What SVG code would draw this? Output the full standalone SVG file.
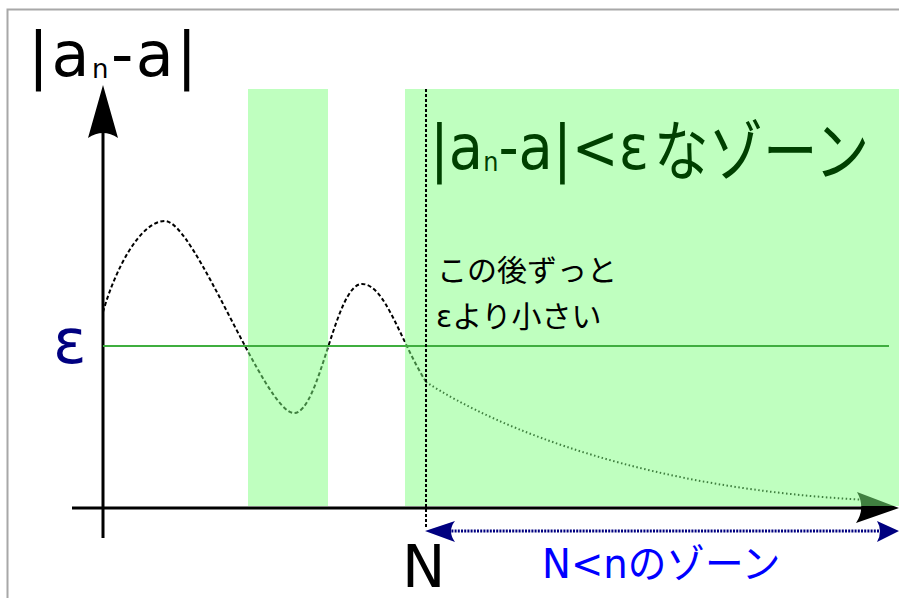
<svg xmlns="http://www.w3.org/2000/svg" width="899" height="598" viewBox="0 0 899 598">
<defs>
<style>
.lat{font-family:"DejaVu Sans","Noto Sans CJK JP",sans-serif}
.jp{font-family:"Noto Sans CJK JP","DejaVu Sans",sans-serif}
.zone{fill:#80ff80;fill-opacity:0.5}
.curve{fill:none;stroke:#000;stroke-width:2}
</style>
</defs>
<rect x="0" y="0" width="899" height="598" fill="#fff"/>
<path d="M7.5,598 V9.5 H899" fill="none" stroke="#a8a8a8" stroke-width="2"/>
<g id="connectors">
<path id="curve-osc" class="curve" stroke-dasharray="4,2.5" d="M103,312 C115,270 140,221 165,221 C195,221 265,413 294,413 C320,413 335,284 362,284 C385,284 400,340 426,382"/>
<path id="curve-tail" class="curve" stroke-width="2.5" stroke-dasharray="1.5,2.5" d="M426,382 C500,430 650,490 870,500"/>
<line id="y-axis" x1="103" y1="130" x2="103" y2="538" stroke="#000" stroke-width="3"/>
<path d="M103,85 L118,138 Q103,128 88,138 Z" fill="#000"/>
<line id="x-axis" x1="72" y1="508" x2="870" y2="508" stroke="#000" stroke-width="3"/>
<path d="M899,508 L856,523 Q866,508 857,492 Z" fill="#000"/>
</g>
<g id="zone-bands">
<rect class="zone" x="248" y="89" width="80" height="417"/>
<rect class="zone" x="405" y="89" width="494" height="417"/>
</g>
<g id="epsilon-line">
<line x1="103" y1="346" x2="889" y2="346" stroke="#3fae3f" stroke-width="2"/>
</g>
<g id="n-marker">
<line x1="426" y1="89" x2="426" y2="528" stroke="#000" stroke-width="2" stroke-dasharray="3,2"/>
</g>
<g id="n-zone-arrow">
<line x1="445" y1="531" x2="882" y2="531" stroke="#000080" stroke-width="3" stroke-dasharray="2,1.2"/>
<path d="M425,531 L455,521 Q447,531 455,542 Z" fill="#000080"/>
<path d="M899,531 L877,521 Q883,531 877,542 Z" fill="#000080"/>
</g>
<g id="labels">
<text class="lat" x="28" y="76" font-size="62" letter-spacing="2.5" fill="#000">|a<tspan font-size="26" dy="2">n</tspan><tspan dy="-2">-a|</tspan></text>
<text class="lat" x="53" y="363" font-size="62" fill="#000080">ε</text>
<text class="lat" x="402" y="587" font-size="58" fill="#000">N</text>
<text class="lat" transform="translate(430,169) scale(1,1.12)" x="0" y="0" font-size="56" fill="#004000">|a<tspan font-size="24" dy="2">n</tspan><tspan dy="-2">-a|&lt;ε</tspan></text>
<text class="jp" transform="translate(654,175) scale(0.826,1)" x="0" y="0" font-size="66" fill="#004000">なゾーン</text>
<text class="jp" x="437" y="281" font-size="30" fill="#000">この後ずっと</text>
<text class="jp" x="436" y="327" font-size="30" fill="#000"><tspan class="lat">ε</tspan>より小さい</text>
<text class="lat" transform="translate(542,578) scale(0.966,1)" x="0" y="0" font-size="40" fill="#0000ff">N&lt;n<tspan class="jp">のゾーン</tspan></text>
</g>
</svg>
